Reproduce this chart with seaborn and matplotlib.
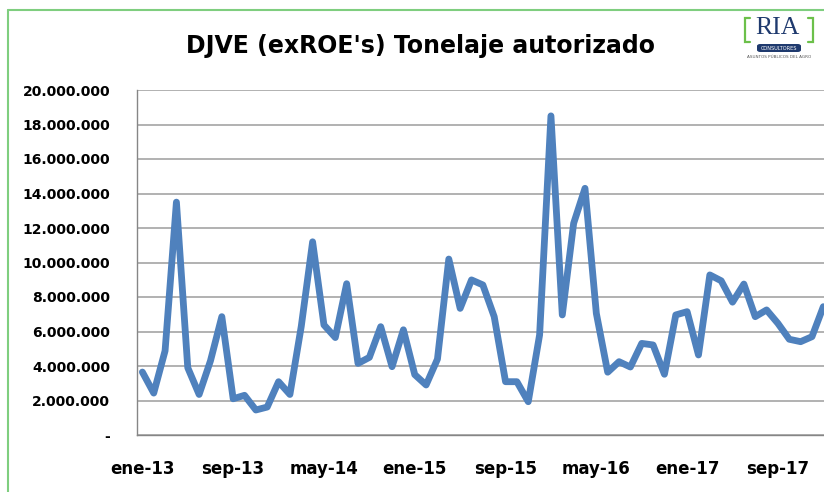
import matplotlib
matplotlib.use("Agg")
import matplotlib.pyplot as plt
import seaborn as sns
import pandas as pd
from matplotlib.lines import Line2D
from matplotlib.patches import FancyBboxPatch

# ---------------- data ----------------
month_names = ["ene", "feb", "mar", "abr", "may", "jun", "jul", "ago", "sep", "oct", "nov", "dic"]
years = ["13", "14", "15", "16", "17", "18"]
months = [f"{m}-{y}" for y in years for m in month_names][:61]   # ene-13 ... ene-18

tonnes = [
    3650000, 2430000, 4880000, 13500000, 3900000, 2350000, 4300000, 6860000,
    2100000, 2300000, 1450000, 1620000, 3090000, 2350000, 6300000, 11200000,
    6380000, 5650000, 8770000, 4150000, 4500000, 6280000, 3960000, 6100000,
    3500000, 2900000, 4400000, 10200000, 7340000, 8990000, 8700000, 6860000,
    3090000, 3090000, 1930000, 5800000, 18500000, 6960000, 12270000, 14300000,
    7050000, 3640000, 4250000, 3940000, 5310000, 5220000, 3520000, 6960000,
    7150000, 4640000, 9280000, 8940000, 7700000, 8750000, 6860000, 7250000,
    6470000, 5550000, 5410000, 5700000, 7440000,
]

x_tick_labels = ["ene-13", "sep-13", "may-14", "ene-15", "sep-15", "may-16", "ene-17", "sep-17"]
y_tick_values = [0, 2000000, 4000000, 6000000, 8000000, 10000000, 12000000, 14000000,
                 16000000, 18000000, 20000000]
y_tick_labels = ["-", "2.000.000", "4.000.000", "6.000.000", "8.000.000", "10.000.000",
                 "12.000.000", "14.000.000", "16.000.000", "18.000.000", "20.000.000"]
title = "DJVE (exROE's) Tonelaje autorizado"

df = pd.DataFrame({"idx": range(len(tonnes)), "mes": months, "tn": tonnes})

# ---------------- figure ----------------
sns.set_theme(style="white")
plt.rcParams["font.family"] = ["DejaVu Sans"]

W, H = 824, 492
fig = plt.figure(figsize=(W / 100, H / 100), dpi=100)
fig.patch.set_facecolor("white")

def fx(px):
    return px / W

def fy(py):
    return 1 - py / H

left_px, right_px, top_px, bottom_px = 136.7, 829.0, 90.0, 435.0
ax = fig.add_axes([fx(left_px), fy(bottom_px), fx(right_px - left_px), (bottom_px - top_px) / H])
ax.set_facecolor("white")

sns.lineplot(data=df, x="idx", y="tn", ax=ax, color="#4F81BD", linewidth=4.9,
             solid_joinstyle="round", solid_capstyle="round", zorder=3)

n = len(tonnes)
ax.set_xlim(-0.5, n - 0.5)
ax.set_ylim(0, 20000000)

# grid
ax.set_yticks(y_tick_values)
ax.set_yticklabels(y_tick_labels, fontsize=10, fontweight="heavy", color="black")
ax.yaxis.grid(True, color="#9d9d9d", linewidth=1.1, zorder=0)
ax.xaxis.grid(False)

# x ticks: labels at category centers, tick marks at category boundaries
label_pos = [8 * k for k in range(len(x_tick_labels))]
ax.set_xticks(label_pos)
ax.set_xticklabels(x_tick_labels, fontsize=12, fontweight="heavy", color="black")
ax.set_xticks([p - 0.5 for p in label_pos], minor=True)
ax.tick_params(axis="x", which="major", length=0, pad=18)
ax.tick_params(axis="x", which="minor", length=4.5, width=1, color="#868686", direction="out")
ax.tick_params(axis="y", which="major", length=3.6, width=1, color="#868686", direction="out", pad=15.5)
ax.set_xlabel("")
ax.set_ylabel("")

for s in ["top", "right"]:
    ax.spines[s].set_visible(False)
for s in ["left", "bottom"]:
    ax.spines[s].set_color("#868686")
    ax.spines[s].set_linewidth(1.0)

# title
fig.text(fx(420), fy(46), title, ha="center", va="center", fontsize=17,
         fontweight="heavy", color="black")

# green chart border (left and top edges visible)
green = "#7fce7f"
fig.add_artist(Line2D([fx(8), fx(8)], [0, fy(10)], color=green, linewidth=1.5))
fig.add_artist(Line2D([fx(8), 1], [fy(10), fy(10)], color=green, linewidth=1.5))

# logo
logo_green = "#6cc04a"
navy = "#1f3a6e"
for xs in ([750, 745, 745, 750], [808, 813, 813, 808]):
    fig.add_artist(Line2D([fx(v) for v in xs], [fy(18), fy(18), fy(42), fy(42)],
                          color=logo_green, linewidth=1.6, solid_joinstyle="miter"))
fig.text(fx(777), fy(28), "RIA", ha="center", va="center", fontsize=18.5,
         family="Liberation Serif", color=navy)
box = FancyBboxPatch((fx(757), fy(52)), fx(44), 8 / H, boxstyle="round,pad=0,rounding_size=0.004",
                     transform=fig.transFigure, facecolor=navy, edgecolor="none")
fig.add_artist(box)
fig.text(fx(779), fy(48), "CONSULTORES", ha="center", va="center", fontsize=3.6,
         color="white")
fig.text(fx(779), fy(57.5), "ASUNTOS PÚBLICOS DEL AGRO", ha="center", va="center",
         fontsize=3.0, color="#555555")

fig.savefig("out.png", dpi=100, facecolor="white")
